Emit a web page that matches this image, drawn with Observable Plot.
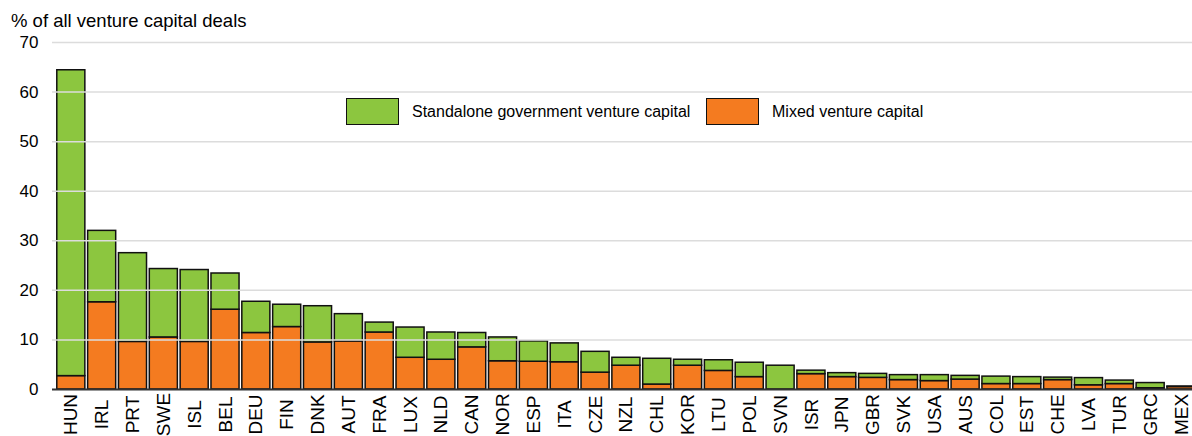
<!DOCTYPE html>
<html>
<head>
<meta charset="utf-8">
<script src="https://cdn.jsdelivr.net/npm/d3@7"></script>
<script src="https://cdn.jsdelivr.net/npm/@observablehq/plot@0.6"></script>
<style>
  body { margin: 0; background: #fff; font-family: "Liberation Sans", Arial, sans-serif; }
  #wrap { position: relative; width: 1192px; height: 436px; overflow: hidden; }
  #title { position: absolute; left: 11px; top: 10px; font-size: 18.5px; color: #000; line-height: 1.15; white-space: nowrap; }
  #chart { position: absolute; left: 0; top: 32px; }
  .sw { position: absolute; top: 98px; width: 53px; height: 27px; border: 1.8px solid #111; box-sizing: border-box; }
  .lab { position: absolute; top: 103px; font-size: 16px; color: #000; white-space: nowrap; line-height: 1.15; }
</style>
</head>
<body>
<div id="wrap">
  <div id="title">% of all venture capital deals</div>
  <div id="chart"></div>
  <div id="legend">
    <span class="sw" style="left:346px;background:#8cc63f"></span><span class="lab" style="left:412px">Standalone government venture capital</span>
    <span class="sw" style="left:706px;background:#f47b20"></span><span class="lab" style="left:772px">Mixed venture capital</span>
  </div>
</div>
<script>
const countries = ["HUN","IRL","PRT","SWE","ISL","BEL","DEU","FIN","DNK","AUT","FRA","LUX","NLD","CAN","NOR","ESP","ITA","CZE","NZL","CHL","KOR","LTU","POL","SVN","ISR","JPN","GBR","SVK","USA","AUS","COL","EST","CHE","LVA","TUR","GRC","MEX"];
const totals = [64.4,32.0,27.5,24.3,24.1,23.4,17.7,17.1,16.8,15.2,13.5,12.5,11.5,11.4,10.5,9.7,9.3,7.6,6.4,6.2,6.0,5.9,5.4,4.8,3.8,3.3,3.15,2.9,2.9,2.75,2.6,2.5,2.4,2.3,1.8,1.3,0.6];
const mixed = [2.7,17.6,9.6,10.5,9.6,16.1,11.4,12.6,9.5,9.7,11.5,6.4,6.0,8.5,5.7,5.6,5.5,3.4,4.8,1.0,4.8,3.75,2.5,0,3.1,2.5,2.35,1.9,1.7,2.0,1.1,1.1,1.9,0.85,1.1,0.25,0.5];
const seriesNames = ["Mixed venture capital","Standalone government venture capital"];
const seriesColors = ["#f47b20","#8cc63f"];
const yTicks = [0,10,20,30,40,50,60,70];

const data = [];
countries.forEach((c,i) => data.push({country:c, series:seriesNames[0], value:mixed[i]}));
countries.forEach((c,i) => data.push({country:c, series:seriesNames[1], value:+(totals[i]-mixed[i]).toFixed(2)}));

const chart = Plot.plot({
  width: 1192,
  height: 404,
  marginTop: 10,
  marginBottom: 47,
  marginLeft: 52,
  marginRight: 0,
  style: {fontFamily: "Liberation Sans, Arial, sans-serif", background: "transparent", overflow: "visible"},
  x: {domain: countries, range: [55.4, 1196.4], paddingInner: 0.09, paddingOuter: 0.045, label: null},
  y: {domain: [0,70], label: null},
  color: {domain: seriesNames, range: seriesColors},
  marks: [
    Plot.barY(data, Plot.stackY({order: seriesNames}, {x: "country", y: "value", fill: "series", stroke: "#111", strokeWidth: 1.5})),
    Plot.ruleY(yTicks.filter(d => d > 0), {stroke: "#dcdcdc", strokeWidth: 1.5}),
    Plot.ruleY([0], {stroke: "#333", strokeWidth: 2}),
    Plot.axisY(yTicks, {tickSize: 0, tickPadding: 14, fontSize: 17, label: null, fill: "#000"}),
    Plot.axisX({tickSize: 0, tickPadding: 25, tickRotate: -90, textAnchor: "middle", lineAnchor: "middle", fontSize: 19, label: null, fill: "#000"})
  ]
});
document.getElementById("chart").appendChild(chart);
</script>
</body>
</html>
